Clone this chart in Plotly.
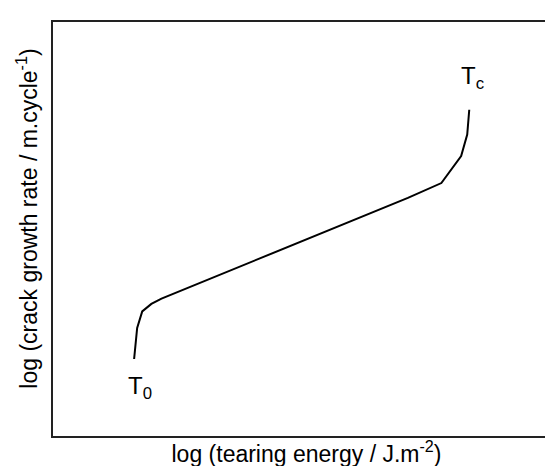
import plotly.graph_objects as go

# schematic curve: log tearing energy (x) vs log crack growth rate (y), arbitrary units
log_tearing_energy = [1.60, 1.66, 1.76, 1.94, 2.14, 7.00, 7.66, 8.05, 8.17, 8.21]
log_growth_rate = [1.86, 2.61, 3.01, 3.19, 3.32, 5.75, 6.11, 6.76, 7.28, 7.88]

label_text = ["T<sub>0</sub>", "T<sub>c</sub>"]
label_x = [1.72, 8.28]
label_y = [1.17, 8.67]

x_title = "log (tearing energy / J.m<sup>-2</sup>)"
y_title = "log (crack growth rate / m.cycle<sup>-1</sup>)"

FONT = "Liberation Sans, Arial"

fig = go.Figure()
fig.add_trace(go.Scatter(
    x=log_tearing_energy, y=log_growth_rate, mode="lines",
    line=dict(color="black", width=2), showlegend=False, hoverinfo="skip"))

for t, x, y in zip(label_text, label_x, label_y):
    fig.add_annotation(x=x, y=y, text=t, showarrow=False,
                       font=dict(family=FONT, size=24, color="black"))

# y-axis title as a rotated annotation (sits slightly above the axis centre)
fig.add_annotation(x=0, y=0.525, xref="paper", yref="paper", text=y_title,
                   textangle=-90, showarrow=False, xanchor="right", yanchor="middle",
                   xshift=-9, font=dict(family=FONT, size=23, color="black"))

axis_common = dict(showgrid=False, zeroline=False, showticklabels=False, ticks="",
                   showline=True, mirror=True, linecolor="#222", linewidth=2,
                   automargin=False)
fig.update_xaxes(range=[0, 10], **axis_common,
                 title=dict(text=x_title, standoff=9,
                            font=dict(family=FONT, size=23, color="black")))
fig.update_yaxes(range=[0, 10], **axis_common)
fig.update_layout(width=553, height=466, margin=dict(l=45, r=1, t=14, b=38),
                  paper_bgcolor="white", plot_bgcolor="white")
fig.write_html("out.html")
